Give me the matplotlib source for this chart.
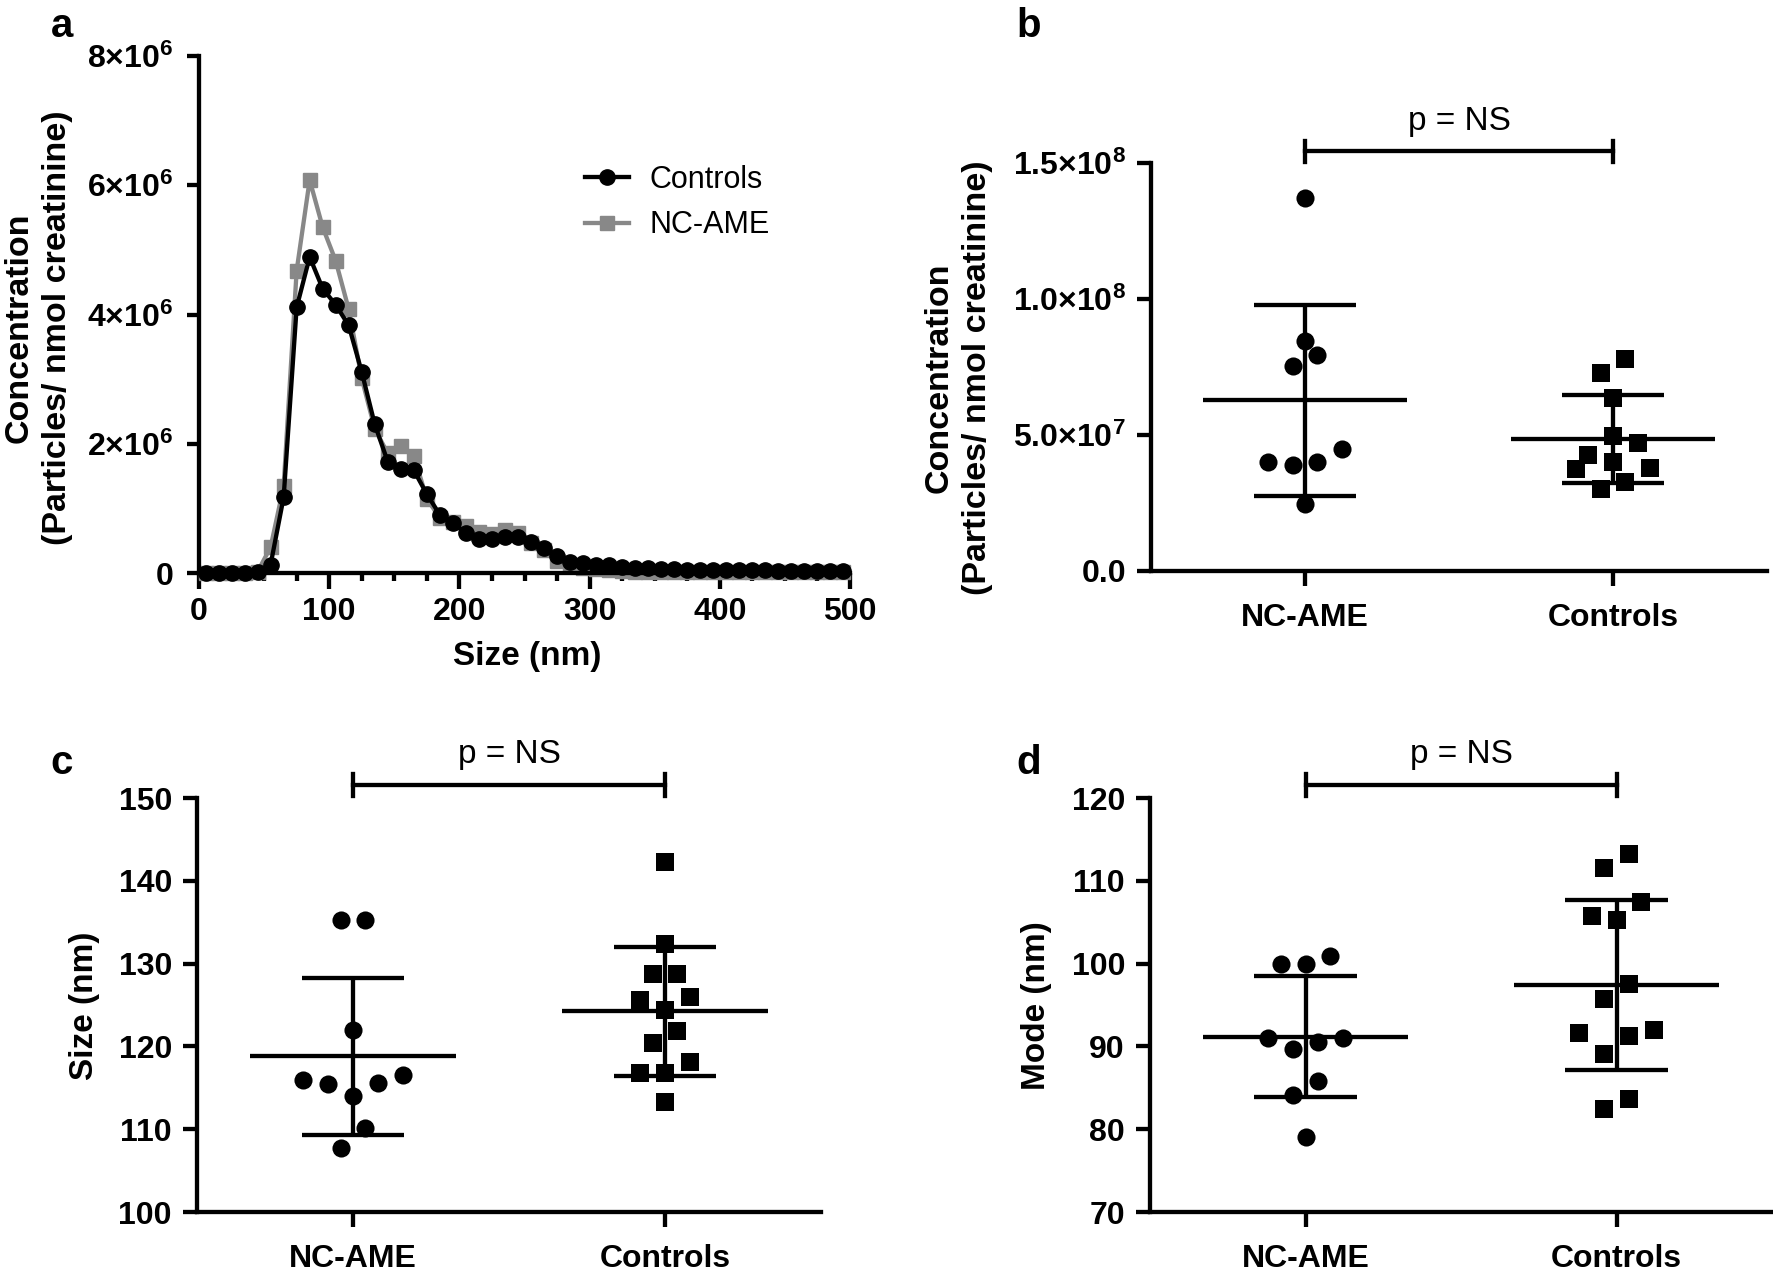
import numpy as np
import matplotlib
matplotlib.use('Agg')
import matplotlib.pyplot as plt
from matplotlib import font_manager
from matplotlib.font_manager import FontProperties
from matplotlib.ticker import MultipleLocator
from matplotlib.transforms import blended_transform_factory

# fontes: Arial-like bold, condensed where available
names = {f.name for f in font_manager.fontManager.ttflist}
NARROW = 'Liberation Sans Narrow' if 'Liberation Sans Narrow' in names else 'Liberation Sans'
plt.rcParams['font.family'] = 'Liberation Sans'
plt.rcParams['mathtext.fontset'] = 'custom'
plt.rcParams['mathtext.rm'] = NARROW + ':bold'
plt.rcParams['mathtext.it'] = NARROW + ':bold'
plt.rcParams['mathtext.bf'] = NARROW + ':bold'
plt.rcParams['mathtext.default'] = 'rm'

# ---------------- data ----------------
# panel a: size distribution (concentration in 1e6 particles / nmol creatinine)
size_nm = [5, 15, 25, 35, 45, 55, 65, 75, 85, 95,
           105, 115, 125, 135, 145, 155, 165, 175, 185, 195,
           205, 215, 225, 235, 245, 255, 265, 275, 285, 295,
           305, 315, 325, 335, 345, 355, 365, 375, 385, 395,
           405, 415, 425, 435, 445, 455, 465, 475, 485, 495]
controls_conc = [0.0, 0.0, 0.0, 0.0, 0.02, 0.13, 1.17, 4.11, 4.89, 4.40,
                 4.15, 3.83, 3.11, 2.30, 1.72, 1.61, 1.59, 1.22, 0.90, 0.77,
                 0.62, 0.52, 0.52, 0.55, 0.55, 0.48, 0.38, 0.26, 0.17, 0.15,
                 0.13, 0.12, 0.10, 0.08, 0.07, 0.06, 0.06, 0.05, 0.05, 0.05,
                 0.04, 0.04, 0.04, 0.04, 0.03, 0.03, 0.03, 0.03, 0.03, 0.03]
ncame_conc = [0.0, 0.0, 0.0, 0.0, 0.02, 0.40, 1.34, 4.68, 6.08, 5.35,
              4.83, 4.08, 3.01, 2.23, 1.85, 1.96, 1.81, 1.15, 0.85, 0.79,
              0.72, 0.63, 0.60, 0.67, 0.62, 0.46, 0.35, 0.18, 0.11, 0.08,
              0.06, 0.04, 0.03, 0.02, 0.02, 0.02, 0.02, 0.02, 0.02, 0.01,
              0.01, 0.01, 0.01, 0.01, 0.01, 0.01, 0.01, 0.01, 0.01, 0.01]
conc_a_ticks = [0, 2e6, 4e6, 6e6, 8e6]
conc_a_labels = ['0', '2×10$^{6}$', '4×10$^{6}$', '6×10$^{6}$', '8×10$^{6}$']

groups = ['NC-AME', 'Controls']

# panel b: concentration (1e6 particles / nmol creatinine)
conc_ncame = [137.3, 84.5, 79.5, 75.2, 44.7, 39.9, 38.8, 40.2, 24.5]
conc_controls = [77.9, 72.8, 63.6, 49.8, 47.1, 42.8, 39.9, 37.5, 37.9, 32.8, 30.1]
conc_b_ticks = [0, 50e6, 100e6, 150e6]
conc_b_labels = ['0.0', '5.0×10$^{7}$', '1.0×10$^{8}$', '1.5×10$^{8}$']

# panel c: mean size (nm)
size_ncame = [135.3, 135.3, 122.0, 116.0, 115.4, 116.6, 115.6, 114.0, 110.2, 107.7]
size_controls = [142.3, 132.4, 128.7, 128.7, 125.6, 126.0, 124.4, 121.9, 120.4,
                 118.1, 116.8, 116.8, 113.3]
size_ticks = [100, 110, 120, 130, 140, 150]

# panel d: mode (nm)
mode_ncame = [100.0, 99.9, 100.9, 91.0, 90.5, 91.0, 89.7, 85.8, 84.1, 79.0]
mode_controls = [113.2, 111.6, 107.4, 105.8, 105.3, 97.5, 95.7, 92.0, 91.2, 91.6,
                 89.1, 83.6, 82.5]
mode_ticks = [70, 80, 90, 100, 110, 120]

# ---------------- figure ----------------
W, H = 1773, 1282
fig = plt.figure(figsize=(W / 100, H / 100), dpi=100)
LW = 3.1
tick_fp = FontProperties(family=NARROW, weight='bold', size=23)
YLAB = 24.5


def px_axes(left, top, right, bottom):
    return fig.add_axes([left / W, 1 - bottom / H, (right - left) / W, (bottom - top) / H])


def style_axes(ax):
    for s in ['top', 'right']:
        ax.spines[s].set_visible(False)
    for s in ['left', 'bottom']:
        ax.spines[s].set_linewidth(LW)
    ax.tick_params(width=LW, length=10, direction='out', pad=8)


def bold_ticklabels(ax):
    for lbl in ax.get_xticklabels() + ax.get_yticklabels():
        lbl.set_fontproperties(tick_fp)


def swarm(vals, h):
    # GraphPad-like: points grouped in rows, spread around the centre
    vals = np.asarray(vals, float)
    order = np.argsort(vals, kind='stable')
    offs = np.zeros(len(vals))
    rows = []
    for idx in order:
        if rows and vals[idx] - vals[rows[-1][0]] <= h:
            rows[-1].append(idx)
        else:
            rows.append([idx])
    for row in rows:
        n = len(row)
        if n % 2:
            slots = [0] + [s for k in range(1, n // 2 + 1) for s in (-k, k)]
        else:
            slots = [s for k in range(n // 2) for s in (-(k + 0.5), k + 0.5)]
        for idx, s in zip(row, slots):
            offs[idx] = s
    return offs


def scatter_panel(ax, data, scale, ylim, yticks, ylabels, bracket_y, text_y):
    markers = ['o', 's']
    for i, vals in enumerate(data):
        vals = np.asarray(vals, float) * scale
        offs = swarm(vals, 0.06 * (ylim[1] - ylim[0]))
        ax.scatter(i + offs * 0.08, vals, marker=markers[i], s=170, color='black',
                   linewidths=0, clip_on=False, zorder=3)
        m, sd = vals.mean(), vals.std(ddof=1)
        ax.hlines(m, i - 0.33, i + 0.33, color='black', lw=LW, zorder=2)
        ax.hlines([m - sd, m + sd], i - 0.165, i + 0.165, color='black', lw=LW, zorder=2)
        ax.vlines(i, m - sd, m + sd, color='black', lw=LW, zorder=2)
    ax.set_xlim(-0.5, 1.5)
    ax.set_ylim(*ylim)
    ax.set_xticks([0, 1], groups)
    ax.set_yticks(yticks, ylabels)
    style_axes(ax)
    ax.tick_params(axis='x', length=11, pad=12)
    bold_ticklabels(ax)
    # significance bracket
    tr = blended_transform_factory(ax.transData, ax.transAxes)
    ax.plot([0, 1], [bracket_y, bracket_y], color='black', lw=LW, transform=tr, clip_on=False)
    for xx in [0, 1]:
        ax.plot([xx, xx], [bracket_y - 0.026, bracket_y + 0.026], color='black', lw=LW,
                transform=tr, clip_on=False)
    ax.text(0.5, text_y, 'p = NS', transform=tr, ha='center', va='baseline', fontsize=24)


# ---- panel a ----
ax = px_axes(199, 56, 850, 573)
l2, = ax.plot(size_nm, np.array(ncame_conc) * 1e6, color='#888888', marker='s', ms=10.5, lw=LW,
              clip_on=False, zorder=2)
l1, = ax.plot(size_nm, np.array(controls_conc) * 1e6, color='black', marker='o', ms=11, lw=LW,
              clip_on=False, zorder=3)
ax.set_xlim(0, 500)
ax.set_ylim(0, 8e6)
ax.set_xticks([0, 100, 200, 300, 400, 500])
ax.xaxis.set_minor_locator(MultipleLocator(25))
ax.set_yticks(conc_a_ticks, conc_a_labels)
style_axes(ax)
ax.tick_params(axis='y', length=8.5, pad=10)
ax.tick_params(axis='x', which='major', length=11.5, pad=6)
ax.tick_params(axis='x', which='minor', length=6, width=LW)
bold_ticklabels(ax)
ax.legend([l1, l2], ['Controls', 'NC-AME'], loc='upper left',
          bbox_to_anchor=(585 / W, 1 - 165 / H), bbox_transform=fig.transFigure,
          frameon=False, borderpad=0, borderaxespad=0, handlelength=1.45,
          handletextpad=0.65, labelspacing=0.5, fontsize=22, numpoints=1)
fig.text(527 / W, 1 - 656 / H, 'Size (nm)', ha='center', va='center',
         fontsize=24, fontweight='bold', family=NARROW)
fig.text(38 / W, 1 - 328 / H, 'Concentration\n(Particles/ nmol creatinine)', rotation=90,
         ha='center', va='center', fontsize=YLAB, fontweight='bold', linespacing=1.3)

# ---- panel b ----
ax = px_axes(1151, 163, 1767, 571)
scatter_panel(ax, [conc_ncame, conc_controls], 1e6, (0, 150e6), conc_b_ticks, conc_b_labels,
              1.029, 1.08)
fig.text(958 / W, 1 - 378 / H, 'Concentration\n(Particles/ nmol creatinine)', rotation=90,
         ha='center', va='center', fontsize=YLAB, fontweight='bold', linespacing=1.3)

# ---- panel c ----
ax = px_axes(197, 798, 821, 1212)
scatter_panel(ax, [size_ncame, size_controls], 1, (100, 150), size_ticks,
              [str(t) for t in size_ticks], 1.031, 1.085)
fig.text(85 / W, 1 - 1006 / H, 'Size (nm)', rotation=90, ha='center', va='center',
         fontsize=24, fontweight='bold')

# ---- panel d ----
ax = px_axes(1150, 798, 1772, 1212)
scatter_panel(ax, [mode_ncame, mode_controls], 1, (70, 120), mode_ticks,
              [str(t) for t in mode_ticks], 1.031, 1.085)
fig.text(1037 / W, 1 - 1006 / H, 'Mode (nm)', rotation=90, ha='center', va='center',
         fontsize=24, fontweight='bold')

# panel letters
for letter, (x, y) in zip('abcd', [(62, 26), (1029, 26), (62, 763), (1029, 763)]):
    fig.text(x / W, 1 - y / H, letter, ha='center', va='center', fontsize=29, fontweight='bold')

fig.savefig('out.png', dpi=100)
